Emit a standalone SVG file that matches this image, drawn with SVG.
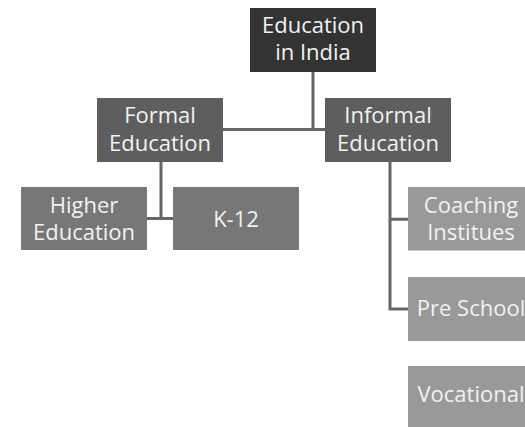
<svg xmlns="http://www.w3.org/2000/svg" width="525" height="427" viewBox="0 0 525 427">
<style>
.t{font-family:"Open Sans","Liberation Sans",sans-serif;font-size:22px;fill:#f2f2f2;text-anchor:middle}
.c{fill:none;stroke:#666666;stroke-width:3}
.l1{fill:#333333}.l2{fill:#5e5e5e}.l3{fill:#777777}.l4{fill:#999999}
</style>
<rect width="525" height="427" fill="#ffffff"/>
<g id="connectors">
<path class="c" d="M313 72V129.5M223 129.5H325"/>
<path class="c" d="M161 162V218.5M147 218.5H173"/>
<path class="c" d="M390 162V309H408M390 219.3H408"/>
</g>
<g id="n-india"><rect class="l1" x="250" y="8" width="126" height="64"/><text class="t" x="313" y="33">Education</text><text class="t" x="313" y="60">in India</text></g>
<g id="n-formal"><rect class="l2" x="97" y="98" width="126" height="64"/><text class="t" x="160" y="123">Formal</text><text class="t" x="160" y="151">Education</text></g>
<g id="n-informal"><rect class="l2" x="325" y="98" width="126" height="64"/><text class="t" x="388" y="123">Informal</text><text class="t" x="388" y="151">Education</text></g>
<g id="n-higher"><rect class="l3" x="21" y="187" width="126" height="63"/><text class="t" x="84" y="213">Higher</text><text class="t" x="84" y="240">Education</text></g>
<g id="n-k12"><rect class="l3" x="173" y="187" width="126" height="63"/><text class="t" x="236" y="226.5">K-12</text></g>
<g id="n-coaching"><rect class="l4" x="408" y="187" width="126" height="63.5"/><text class="t" x="471" y="213">Coaching</text><text class="t" x="471" y="240">Institues</text></g>
<g id="n-preschool"><rect class="l4" x="408" y="277" width="126" height="64"/><text class="t" x="471" y="316">Pre School</text></g>
<g id="n-vocational"><rect class="l4" x="408" y="366" width="126" height="64"/><text class="t" x="471" y="402">Vocational</text></g>
</svg>
